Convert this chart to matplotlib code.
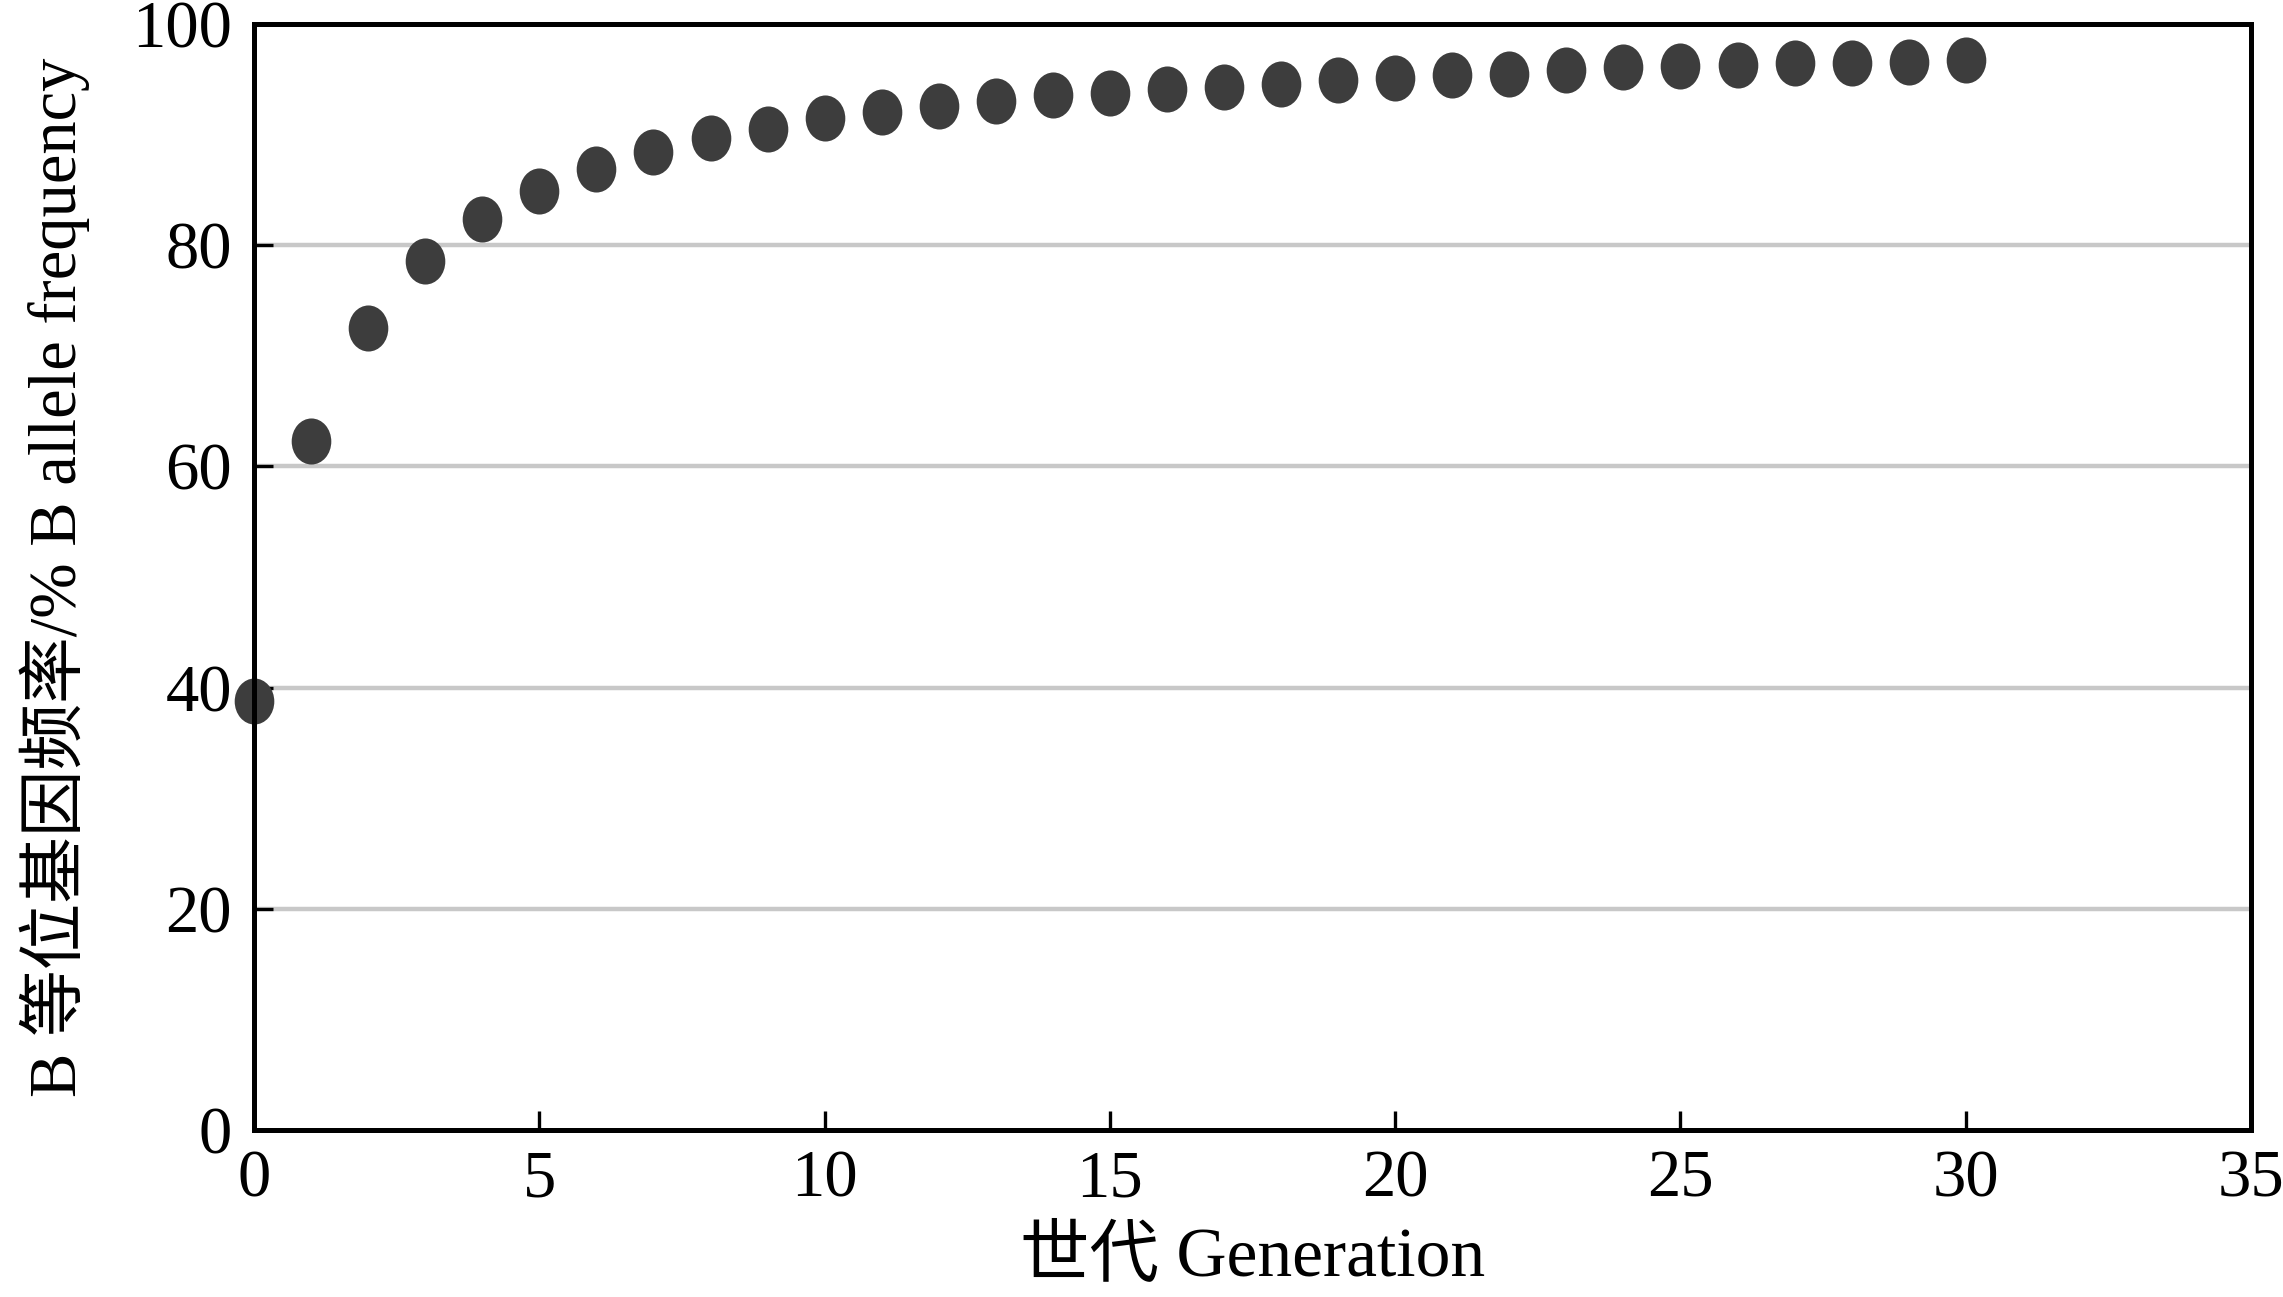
import numpy as np
import matplotlib
matplotlib.use("Agg")
import matplotlib.pyplot as plt
from matplotlib.path import Path
from matplotlib.transforms import Affine2D

# data
generation = list(range(0, 31))
b_freq = [38.8, 62.3, 72.5, 78.6, 82.4, 84.9, 86.9, 88.4, 89.7, 90.5,
          91.5, 92.0, 92.6, 93.0, 93.6, 93.8, 94.1, 94.3, 94.6, 94.9,
          95.1, 95.4, 95.5, 95.8, 96.1, 96.2, 96.3, 96.5, 96.5, 96.6, 96.7]

x_ticks = [0, 5, 10, 15, 20, 25, 30, 35]
y_ticks = [0, 20, 40, 60, 80, 100]

fonts = ['Liberation Serif', 'Noto Sans CJK SC']
plt.rcParams['font.family'] = fonts

fig = plt.figure(figsize=(22.83, 12.97), dpi=100)
ax = fig.add_axes([0.1113, 0.1288, 0.8747, 0.8527])

# slightly tall ellipse marker
ellipse = Path.unit_circle().transformed(Affine2D().scale(0.86, 1.0))

ax.scatter(generation, b_freq, s=1100, marker=ellipse, color='#3d3d3d',
           linewidths=0, zorder=3, clip_on=False)

ax.set_xlim(0, 35)
ax.set_ylim(0, 100)
ax.set_xticks(x_ticks)
ax.set_yticks(y_ticks)

for yv in [20, 40, 60, 80]:
    ax.axhline(yv, color='#c8c8c8', lw=3.2, zorder=1)

for sp in ax.spines.values():
    sp.set_linewidth(3.6)
    sp.set_color('black')
    sp.set_zorder(4)

ax.tick_params(axis='both', direction='in', length=14, width=2.4,
               labelsize=48, color='black', zorder=5)
ax.tick_params(axis='x', pad=14)
ax.tick_params(axis='y', pad=16)

ax.set_xlabel('世代 Generation', fontsize=50, family=fonts, labelpad=12)
ax.set_ylabel('B 等位基因频率/% B allele frequency', fontsize=48,
              family=fonts, labelpad=30)

fig.savefig('out.png', dpi=100, facecolor='white')
